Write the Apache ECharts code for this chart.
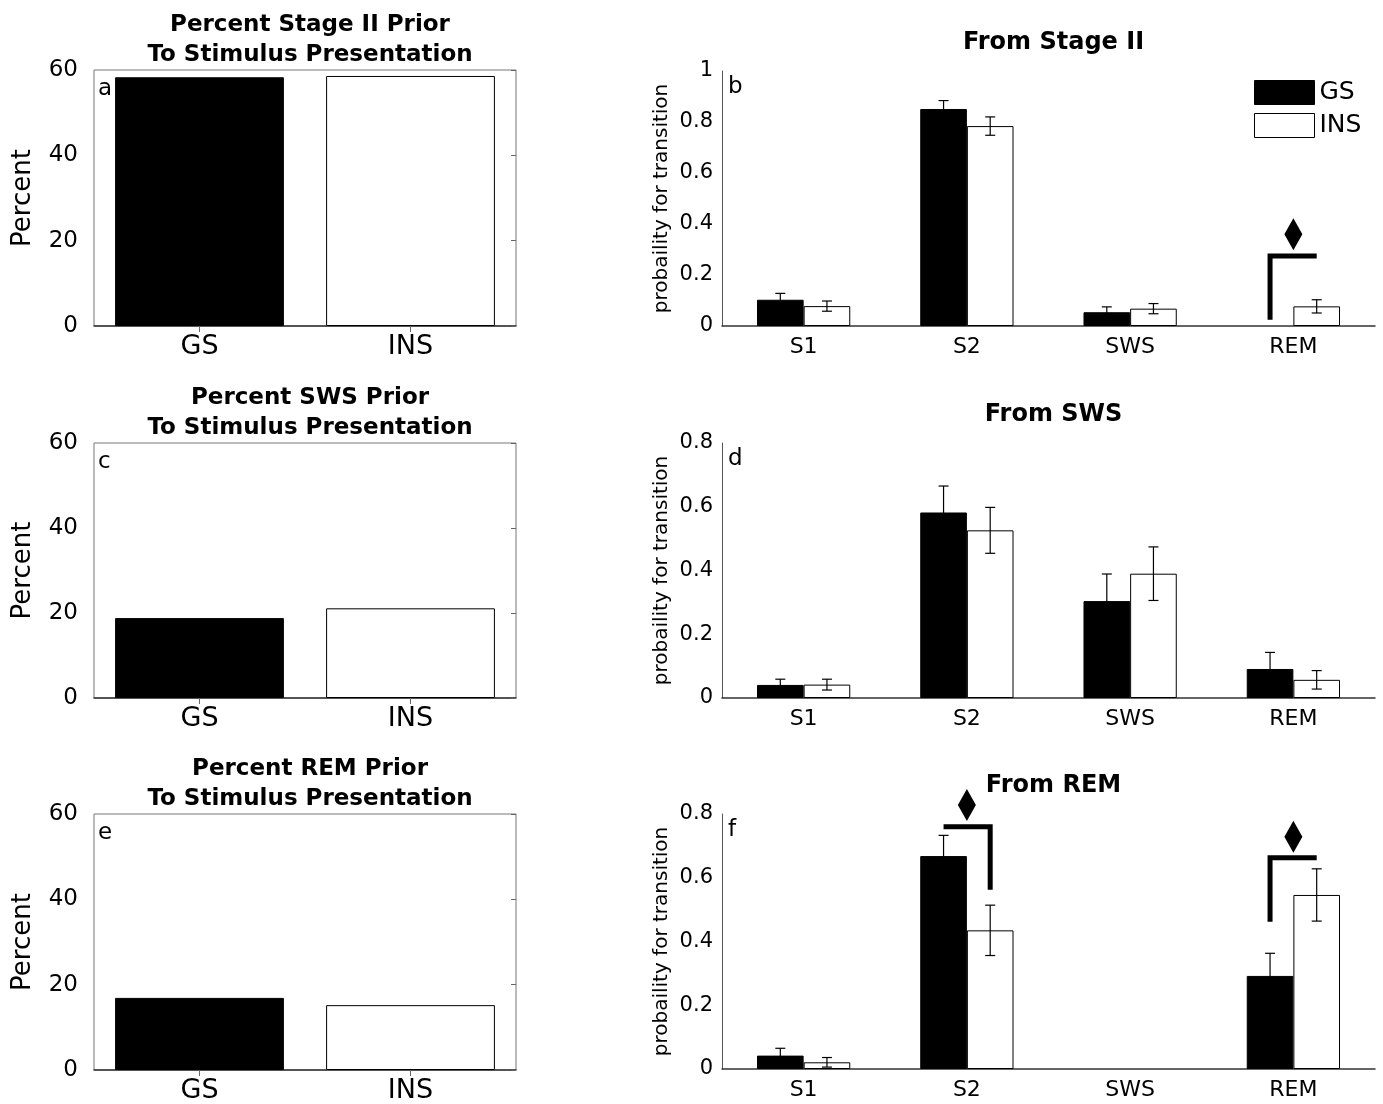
<!DOCTYPE html>
<html>
<head>
<meta charset="utf-8">
<script src="https://cdn.jsdelivr.net/npm/echarts@6/dist/echarts.min.js"></script>
<style>html,body{margin:0;padding:0;background:#fff}#c{width:1383px;height:1104px}</style>
</head>
<body>
<div id="c"></div>
<script>
// ---------- data ----------
const groupCats = ['GS', 'INS'];
const stageCats = ['S1', 'S2', 'SWS', 'REM'];

const priorStageII = [58.3, 58.6];
const priorSWS = [18.8, 21.1];
const priorREM = [16.9, 15.2];

const fromS2_GS = [0.103, 0.851, 0.054, 0];
const fromS2_GSerr = [0.025, 0.033, 0.021, 0];
const fromS2_INS = [0.078, 0.784, 0.068, 0.077];
const fromS2_INSerr = [0.02, 0.036, 0.02, 0.026];

const fromSWS_GS = [0.041, 0.582, 0.304, 0.091];
const fromSWS_GSerr = [0.018, 0.083, 0.085, 0.052];
const fromSWS_INS = [0.042, 0.526, 0.39, 0.057];
const fromSWS_INSerr = [0.017, 0.072, 0.084, 0.029];

const fromREM_GS = [0.042, 0.668, 0, 0.292];
const fromREM_GSerr = [0.023, 0.065, 0, 0.071];
const fromREM_INS = [0.021, 0.435, 0, 0.546];
const fromREM_INSerr = [0.015, 0.079, 0, 0.082];

// significance brackets: [category index, bracket level, drop end, diamond centre, drop side (0 GS,1 INS)]
const sigFromS2 = [[3, 0.275, 0.025, 0.36, 0]];
const sigFromSWS = [];
const sigFromREM = [[1, 0.76, 0.562, 0.828, 1], [3, 0.663, 0.462, 0.729, 0]];

const yTicksLeft = [0, 20, 40, 60];

// ---------- layout ----------
const FONT = 'DejaVu Sans';
const BAR_FRAC = 0.2857;
const L = {left: 94, width: 422, tops: [70, 443, 814], heights: [256, 255, 256]};
const R = {left: 722, width: 653, tops: [71, 443, 814], heights: [255, 255, 255]};

const grids = [], xAxes = [], yAxes = [], series = [], titles = [], graphics = [];

function barItems(vals, fill) {
  return vals.map(v => ({value: v, itemStyle: {color: fill, borderColor: '#000', borderWidth: v > 0 ? 1 : 0}}));
}

function addLeft(k, titleText, letter, values) {
  const gi = grids.length;
  grids.push({left: L.left, top: L.tops[k], width: L.width, height: L.heights[k], show: true,
    borderColor: '#777', borderWidth: 1, backgroundColor: 'transparent'});
  const xi = xAxes.length;
  xAxes.push({type: 'category', gridIndex: gi, data: groupCats, position: 'bottom',
    axisLine: {show: true, lineStyle: {color: '#333', width: 1.5}}, axisTick: {show: false},
    axisLabel: {fontSize: 27, margin: 7, color: '#000', fontFamily: FONT}});
  xAxes.push({type: 'category', gridIndex: gi, data: groupCats, position: 'top',
    axisLine: {show: false}, axisTick: {show: true, inside: true, alignWithLabel: true, length: 6, lineStyle: {color: '#666'}},
    axisLabel: {show: false}});
  const yi = yAxes.length;
  yAxes.push({type: 'value', gridIndex: gi, min: yTicksLeft[0], max: yTicksLeft[yTicksLeft.length - 1], interval: 20,
    position: 'left', axisLine: {show: false}, axisTick: {show: false}, splitLine: {show: false},
    axisLabel: {fontSize: 23, margin: 16, color: '#000', fontFamily: FONT},
    name: 'Percent', nameLocation: 'middle', nameGap: 58,
    nameTextStyle: {fontSize: 26, color: '#000', fontFamily: FONT}});
  yAxes.push({type: 'value', gridIndex: gi, min: 0, max: 60, interval: 20, position: 'right',
    axisLine: {show: false}, axisTick: {show: true, inside: true, length: 5, lineStyle: {color: '#666'}},
    axisLabel: {show: false}, splitLine: {show: false}});
  series.push({type: 'bar', name: 'prior' + k, xAxisIndex: xi, yAxisIndex: yi, barWidth: '80%', silent: true,
    data: values.map((v, i) => ({value: v, itemStyle: i === 0
      ? {color: '#000', borderColor: '#000', borderWidth: 1}
      : {color: '#fff', borderColor: '#000', borderWidth: 1}}))});
  titles.push({text: titleText, left: L.left + L.width / 2, top: L.tops[k] - 65, textAlign: 'center',
    textStyle: {fontSize: 23, fontWeight: 'bold', lineHeight: 30, color: '#000', fontFamily: FONT}});
  graphics.push({type: 'text', x: L.left + 4, y: L.tops[k] + 8,
    style: {text: letter, fontSize: 23, fontFamily: FONT, fill: '#000', textVerticalAlign: 'top'}});
}

function errRender(params, api) {
  const cat = api.value(0), v = api.value(1), e = api.value(2), side = api.value(3);
  if (!(e > 0)) return;
  const band = api.size([1, 0])[0];
  const c = api.coord([cat, v]);
  const x = c[0] + (side === 0 ? -1 : 1) * band * BAR_FRAC / 2;
  const yt = api.coord([cat, v + e])[1], yb = api.coord([cat, v - e])[1];
  const hw = 5, st = {stroke: '#000', lineWidth: 1.2};
  return {type: 'group', children: [
    {type: 'line', shape: {x1: x, y1: yt, x2: x, y2: yb}, style: st},
    {type: 'line', shape: {x1: x - hw, y1: yt, x2: x + hw, y2: yt}, style: st},
    {type: 'line', shape: {x1: x - hw, y1: yb, x2: x + hw, y2: yb}, style: st}
  ]};
}

function sigRender(params, api) {
  const cat = api.value(0), lev = api.value(1), bot = api.value(2), star = api.value(3), side = api.value(4);
  const band = api.size([1, 0])[0];
  const off = band * BAR_FRAC / 2;
  const c = api.coord([cat, lev]);
  const xg = c[0] - off, xi = c[0] + off, yl = c[1];
  const yb = api.coord([cat, bot])[1];
  const ys = api.coord([cat, star])[1];
  const pts = side === 0 ? [[xg, yb], [xg, yl], [xi, yl]] : [[xg, yl], [xi, yl], [xi, yb]];
  const dw = 9, dh = 16;
  return {type: 'group', children: [
    {type: 'polyline', shape: {points: pts}, style: {stroke: '#000', lineWidth: 5, fill: null, lineJoin: 'miter'}},
    {type: 'polygon', shape: {points: [[c[0], ys - dh], [c[0] + dw, ys], [c[0], ys + dh], [c[0] - dw, ys]]},
      style: {fill: '#000'}}
  ]};
}

function addRight(k, titleText, letter, ymax, gs, gsErr, ins, insErr, sig) {
  const gi = grids.length;
  grids.push({left: R.left, top: R.tops[k], width: R.width, height: R.heights[k]});
  const xi = xAxes.length;
  xAxes.push({type: 'category', gridIndex: gi, data: stageCats, position: 'bottom',
    axisLine: {show: true, lineStyle: {color: '#333', width: 1.5}}, axisTick: {show: false},
    axisLabel: {fontSize: 22, margin: 10, color: '#000', fontFamily: FONT}});
  const yi = yAxes.length;
  yAxes.push({type: 'value', gridIndex: gi, min: 0, max: ymax, interval: 0.2, position: 'left',
    axisLine: {show: true, lineStyle: {color: '#555', width: 1}}, axisTick: {show: false}, splitLine: {show: false},
    axisLabel: {fontSize: 21, margin: 9, color: '#000', fontFamily: FONT},
    name: 'probaility for transition', nameLocation: 'middle', nameGap: 50,
    nameTextStyle: {fontSize: 20, color: '#000', fontFamily: FONT}});
  series.push({type: 'bar', name: 'GS', xAxisIndex: xi, yAxisIndex: yi, barWidth: (BAR_FRAC * 100) + '%', barGap: '0%',
    silent: true, itemStyle: {color: '#000', borderColor: '#000', borderWidth: 1}, data: barItems(gs, '#000')});
  series.push({type: 'bar', name: 'INS', xAxisIndex: xi, yAxisIndex: yi, barWidth: (BAR_FRAC * 100) + '%', barGap: '0%',
    silent: true, itemStyle: {color: '#fff', borderColor: '#000', borderWidth: 1}, data: barItems(ins, '#fff')});
  const errData = gs.map((v, i) => [i, v, gsErr[i], 0]).concat(ins.map((v, i) => [i, v, insErr[i], 1]));
  series.push({type: 'custom', name: 'err' + k, xAxisIndex: xi, yAxisIndex: yi, renderItem: errRender,
    encode: {x: 0, y: 1}, data: errData, silent: true, z: 5, clip: false});
  if (sig.length) {
    series.push({type: 'custom', name: 'sig' + k, xAxisIndex: xi, yAxisIndex: yi, renderItem: sigRender,
      encode: {x: 0, y: 1}, data: sig, silent: true, z: 6, clip: false});
  }
  titles.push({text: titleText, left: R.left + R.width / 2, top: R.tops[k] - 48, textAlign: 'center',
    textStyle: {fontSize: 24, fontWeight: 'bold', lineHeight: 30, color: '#000', fontFamily: FONT}});
  graphics.push({type: 'text', x: R.left + 6, y: R.tops[k] + 5,
    style: {text: letter, fontSize: 23, fontFamily: FONT, fill: '#000', textVerticalAlign: 'top'}});
}

addLeft(0, 'Percent Stage II Prior\nTo Stimulus Presentation', 'a', priorStageII);
addLeft(1, 'Percent SWS Prior\nTo Stimulus Presentation', 'c', priorSWS);
addLeft(2, 'Percent REM Prior\nTo Stimulus Presentation', 'e', priorREM);
addRight(0, 'From Stage II', 'b', 1, fromS2_GS, fromS2_GSerr, fromS2_INS, fromS2_INSerr, sigFromS2);
addRight(1, 'From SWS', 'd', 0.8, fromSWS_GS, fromSWS_GSerr, fromSWS_INS, fromSWS_INSerr, sigFromSWS);
addRight(2, 'From REM', 'f', 0.8, fromREM_GS, fromREM_GSerr, fromREM_INS, fromREM_INSerr, sigFromREM);

const chart = echarts.init(document.getElementById('c'), null, {renderer: 'canvas'});
chart.setOption({
  animation: false,
  backgroundColor: '#fff',
  textStyle: {fontFamily: FONT},
  title: titles,
  grid: grids,
  xAxis: xAxes,
  yAxis: yAxes,
  legend: {
    left: 1249, top: 75, orient: 'vertical', itemWidth: 60, itemHeight: 24, itemGap: 8,
    selectedMode: false,
    textStyle: {fontSize: 25, color: '#000', fontFamily: FONT},
    data: [
      {name: 'GS', icon: 'rect', itemStyle: {color: '#000', borderColor: '#000', borderWidth: 1}},
      {name: 'INS', icon: 'rect', itemStyle: {color: '#fff', borderColor: '#000', borderWidth: 1}}
    ]
  },
  graphic: graphics,
  series: series
});
</script>
</body>
</html>
